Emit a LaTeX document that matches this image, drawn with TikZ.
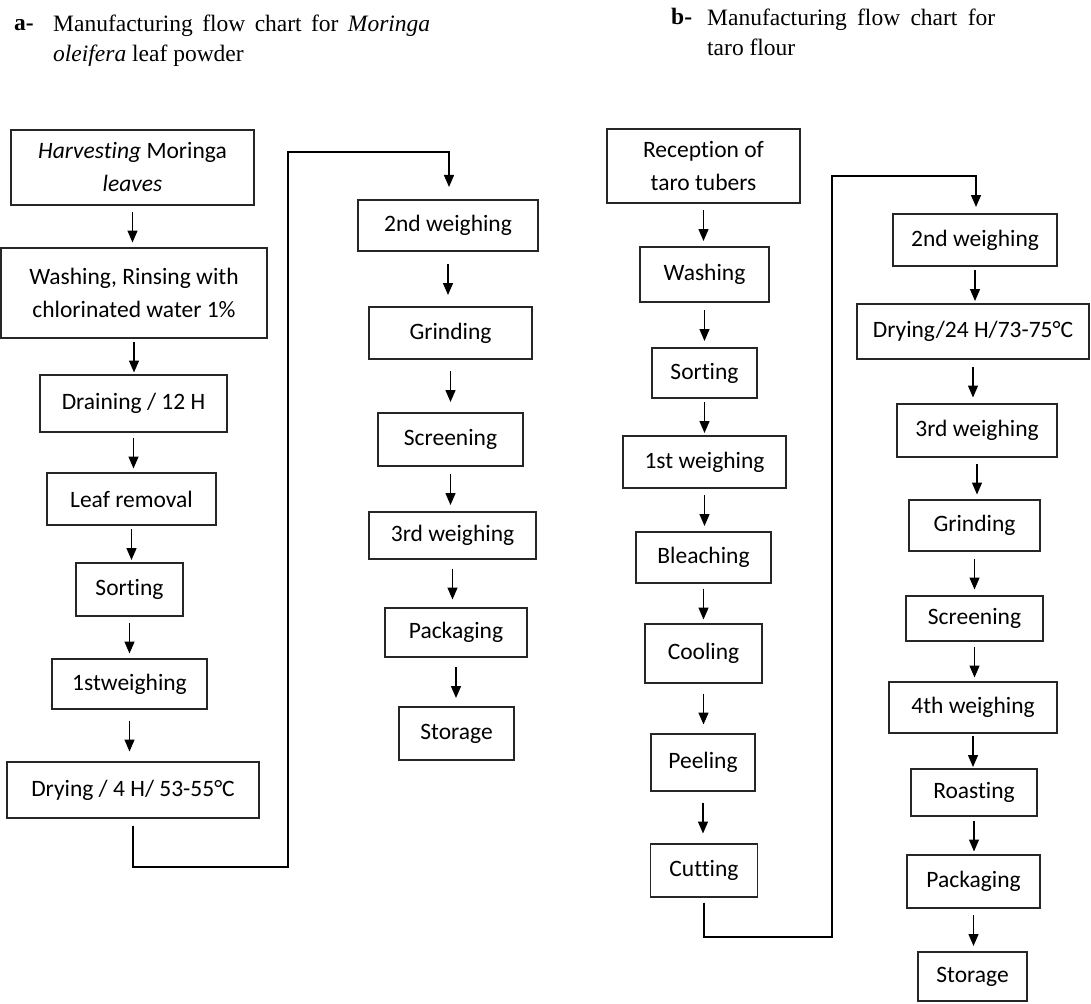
\documentclass[tikz,border=0pt]{standalone}
\usepackage{fontspec}
\setmainfont{Carlito}[Ligatures=NoCommon]
\newfontfamily\seriffont{Liberation Serif}
\usetikzlibrary{arrows.meta,calc}

\tikzset{
  stepbox/.style={draw=black!85, line width=1.3pt, inner sep=0pt, align=center,
    font=\fontsize{23.5}{33}\selectfont},
  boxsize/.style 2 args={minimum width=#1pt, minimum height=#2pt},
  flowarrow/.style={line width=1.4pt, -{Triangle[length=12pt,width=10pt]}},
  titletext/.style={font=\seriffont\fontsize{23.5}{30}\selectfont, inner sep=0pt}
}

\begin{document}
\begin{tikzpicture}[x=1pt,y=-1pt]
  \useasboundingbox (0,0) rectangle (1091,1003);

  % titles
  \node[titletext, anchor=base west] (labA) at (14,31) {\bfseries a-};
  \node[titletext, anchor=north west, text width=377pt, align=justify] (titleA) at (53,15)
    {Manufacturing flow chart for \textit{Moringa}\linebreak \textit{oleifera} leaf powder};
  \node[titletext, anchor=base west] (labB) at (671,25) {\bfseries b-};
  \node[titletext, anchor=north west, text width=288pt, align=justify] (titleB) at (707,9)
    {Manufacturing flow chart for\linebreak taro flour};

  % a - moringa, first column
  \node[stepbox, boxsize={243}{75}] (harvest) at (132.5,167.5) {\textit{Harvesting} Moringa\\\textit{leaves}};
  \node[stepbox, boxsize={266}{90}] (washA) at (134,293) {Washing, Rinsing with\\chlorinated water 1\%};
  \node[stepbox, boxsize={187}{57}] (drainA) at (133.5,403.5) {Draining / 12 H};
  \node[stepbox, boxsize={169}{52}] (leafA) at (131.5,499) {Leaf removal};
  \node[stepbox, boxsize={107}{53}] (sortA) at (129.5,589.5) {Sorting};
  \node[stepbox, boxsize={155}{50}] (weighA1) at (129.5,684) {1stweighing};
  \node[stepbox, boxsize={252}{56}] (dryA) at (133,790) {Drying / 4 H/ 53-55°C};

  % a - moringa, second column
  \node[stepbox, boxsize={180}{51}] (weighA2) at (448,225.5) {2nd weighing};
  \node[stepbox, boxsize={163}{52}] (grindA) at (450.5,333) {Grinding};
  \node[stepbox, boxsize={145}{53}] (screenA) at (450.5,439.5) {Screening};
  \node[stepbox, boxsize={167}{47}] (weighA3) at (452.5,535.5) {3rd weighing};
  \node[stepbox, boxsize={142}{49}] (packA) at (456,632.5) {Packaging};
  \node[stepbox, boxsize={115}{53}] (storeA) at (456.5,733.5) {Storage};

  % b - taro, first column
  \node[stepbox, boxsize={193}{74}] (recB) at (703.5,166) {Reception of\\taro tubers};
  \node[stepbox, boxsize={129}{55}] (washB) at (704.5,274.5) {Washing};
  \node[stepbox, boxsize={105}{50}] (sortB) at (704.5,373) {Sorting};
  \node[stepbox, boxsize={163}{52}] (weighB1) at (704.5,462) {1st weighing};
  \node[stepbox, boxsize={135}{51}] (bleachB) at (703.5,557.5) {Bleaching};
  \node[stepbox, boxsize={117}{59}] (coolB) at (703.5,653.5) {Cooling};
  \node[stepbox, boxsize={104}{57}] (peelB) at (703,762.5) {Peeling};
  \node[stepbox, boxsize={107}{53}] (cutB) at (704,870.5) {Cutting};

  % b - taro, second column
  \node[stepbox, boxsize={164}{52}] (weighB2) at (975,240) {2nd weighing};
  \node[stepbox, boxsize={232}{55}] (dryB) at (973,331.5) {Drying/24 H/73-75°C};
  \node[stepbox, boxsize={160}{53}] (weighB3) at (977,430.5) {3rd weighing};
  \node[stepbox, boxsize={131}{51}] (grindB) at (974.5,525.5) {Grinding};
  \node[stepbox, boxsize={137}{45}] (screenB) at (974.5,618.5) {Screening};
  \node[stepbox, boxsize={168}{51}] (weighB4) at (973,707.5) {4th weighing};
  \node[stepbox, boxsize={126}{47}] (roastB) at (974,792.5) {Roasting};
  \node[stepbox, boxsize={133}{53}] (packB) at (973.5,881.5) {Packaging};
  \node[stepbox, boxsize={109}{49}] (storeB) at (972.5,976.5) {Storage};

  % arrows between steps
  \foreach \a/\b in {harvest/washA, washA/drainA, drainA/leafA, leafA/sortA,
      sortA/weighA1, weighA1/dryA, weighA2/grindA, grindA/screenA,
      screenA/weighA3, weighA3/packA, packA/storeA,
      recB/washB, washB/sortB, sortB/weighB1, weighB1/bleachB, bleachB/coolB,
      coolB/peelB, peelB/cutB, weighB2/dryB, dryB/weighB3, weighB3/grindB,
      grindB/screenB, screenB/weighB4, weighB4/roastB, roastB/packB, packB/storeB}
    \draw[flowarrow] ($(\a.south)!.5!(\a.south |- \b.north) + (0,-15)$) -- ++(0,31);

  % links to the next column
  \coordinate (turnA1) at (288,867);
  \coordinate (turnA2) at (449,152);
  \draw[flowarrow, shorten <=7pt] (dryA.south) |- (turnA1) |- (turnA2) -- ++(0,35);
  \coordinate (turnB1) at (832,937);
  \coordinate (turnB2) at (976,176);
  \draw[flowarrow, shorten <=5pt] (cutB.south) |- (turnB1) |- (turnB2) -- ++(0,31);
\end{tikzpicture}
\end{document}
